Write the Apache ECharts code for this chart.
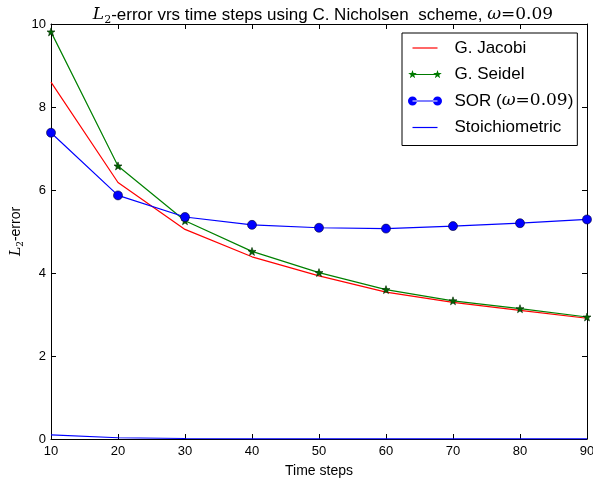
<!DOCTYPE html>
<html><head><meta charset="utf-8">
<script src="https://cdn.jsdelivr.net/npm/echarts@6/dist/echarts.min.js"></script>
<style>html,body{margin:0;padding:0;background:#fff}#c{width:593px;height:484px}</style>
</head><body><div id="c"></div>
<script>
var timeSteps = [10, 20, 30, 40, 50, 60, 70, 80, 90];
var jacobi = [8.60, 6.18, 5.05, 4.39, 3.93, 3.54, 3.29, 3.10, 2.91];
var seidel = [9.81, 6.58, 5.26, 4.52, 4.01, 3.60, 3.33, 3.14, 2.94];
var sor = [7.38, 5.87, 5.35, 5.16, 5.09, 5.07, 5.13, 5.20, 5.29];
var stoich = [0.10, 0.03, 0.012, 0.005, 0.003, 0.002, 0.001, 0.001, 0.001];
var seriesNames = ['G. Jacobi', 'G. Seidel', 'SOR (w=0.09)', 'Stoichiometric'];

function pairs(ys) { return timeSteps.map(function (x, i) { return [x, ys[i]]; }); }
function starPts(cx, cy, R, r) {
  var s = '';
  for (var k = 0; k < 10; k++) {
    var a = (-90 + k * 36) * Math.PI / 180, rr = k % 2 ? r : R;
    s += (k ? 'L' : 'M') + (cx + rr * Math.cos(a)).toFixed(3) + ',' + (cy + rr * Math.sin(a)).toFixed(3);
  }
  return s + 'Z';
}
var starSymbol = 'path://' + starPts(5, 5, 5, 2);
var bar = 'M4.5,3.9h25v1.2h-25Z';
var anchors = 'M0,0L0,0M34,9L34,9';
var iconLine = 'path://' + anchors + bar;
var iconStar = 'path://' + anchors + starPts(4.5, 4.5, 4.5, 1.8) + starPts(29.5, 4.5, 4.5, 1.8) + bar;
var iconCircle = 'path://M0,4.5a4.5,4.5 0 1,0 9,0a4.5,4.5 0 1,0 -9,0ZM25,4.5a4.5,4.5 0 1,0 9,0a4.5,4.5 0 1,0 -9,0Z' + bar;

var sans = 'Liberation Sans, Arial, sans-serif';
var serif = 'DejaVu Serif, serif';
var chart = echarts.init(document.getElementById('c'), null, {renderer: 'canvas'});
var grid = {left: 51, right: 6, top: 24, bottom: 45, containLabel: false, outerBoundsMode: 'none'};
var axisCommon = {
  type: 'value', splitLine: {show: false},
  axisLine: {show: true, onZero: false, lineStyle: {color: '#000', width: 1}},
  axisTick: {show: true, inside: true, length: 5, lineStyle: {color: '#000'}}
};
chart.setOption({
  animation: false,
  backgroundColor: '#fff',
  title: {
    text: '{m|L}{s|2}{t|-error vrs time steps using C. Nicholsen  scheme, }{m|\u03c9}{e|=0.09}',
    left: 318, top: -1, textAlign: 'center',
    textStyle: {
      fontFamily: sans, fontSize: 17, fontWeight: 'normal', color: '#000',
      rich: {
        m: {fontFamily: serif, fontStyle: 'italic', fontSize: 17, lineHeight: 22, color: '#000'},
        s: {fontFamily: serif, fontSize: 11, lineHeight: 22, verticalAlign: 'bottom', color: '#000'},
        t: {fontFamily: sans, fontSize: 17, lineHeight: 22, color: '#000'},
        e: {fontFamily: serif, fontSize: 17, lineHeight: 22, color: '#000'}
      }
    }
  },
  legend: {
    orient: 'vertical', left: 402, top: 33,
    padding: [6, 4, 9, 6], itemGap: 8.5, itemWidth: 49, itemHeight: 9,
    borderColor: '#000', borderWidth: 1, backgroundColor: '#fff',
    data: [
      {name: seriesNames[0], icon: iconLine, itemStyle: {color: '#ff0000', borderWidth: 0}},
      {name: seriesNames[1], icon: iconStar, itemStyle: {color: '#007a00', borderWidth: 0}},
      {name: seriesNames[2], icon: iconCircle, itemStyle: {color: '#0000ff', borderWidth: 0}},
      {name: seriesNames[3], icon: iconLine, itemStyle: {color: '#0000ff', borderWidth: 0}}
    ],
    formatter: function (n) {
      if (n === seriesNames[2]) return 'SOR ({m|\u03c9}{e|=0.09})';
      return n;
    },
    textStyle: {
      fontFamily: sans, fontSize: 17, color: '#000', lineHeight: 18,
      rich: {
        m: {fontFamily: serif, fontStyle: 'italic', fontSize: 17, lineHeight: 18, color: '#000'},
        e: {fontFamily: serif, fontSize: 17, lineHeight: 18, color: '#000'}
      }
    }
  },
  grid: grid,
  xAxis: [
    Object.assign({}, axisCommon, {
      position: 'bottom', min: 10, max: 90, interval: 10,
      name: 'Time steps', nameLocation: 'middle', nameGap: 25, nameMoveOverlap: false,
      nameTextStyle: {fontFamily: sans, fontSize: 14, color: '#000'},
      axisLabel: {fontFamily: sans, fontSize: 13, color: '#000', margin: 6}
    }),
    Object.assign({}, axisCommon, {
      position: 'top', min: 10, max: 90, interval: 10, axisLabel: {show: false}
    })
  ],
  yAxis: [
    Object.assign({}, axisCommon, {
      position: 'left', min: 0, max: 10, interval: 2,
      name: '{m|L}{s|2}{t|-error}', nameLocation: 'middle', nameGap: 26, nameRotate: 90,
      nameMoveOverlap: false,
      nameTextStyle: {
        fontFamily: sans, fontSize: 14, color: '#000',
        rich: {
          m: {fontFamily: serif, fontStyle: 'italic', fontSize: 14, lineHeight: 18, color: '#000'},
          s: {fontFamily: serif, fontSize: 9, lineHeight: 18, verticalAlign: 'bottom', color: '#000'},
          t: {fontFamily: sans, fontSize: 14, lineHeight: 18, color: '#000'}
        }
      },
      axisLabel: {fontFamily: sans, fontSize: 13, color: '#000', margin: 5}
    }),
    Object.assign({}, axisCommon, {
      position: 'right', min: 0, max: 10, interval: 2, axisLabel: {show: false}
    })
  ],
  series: [
    {name: seriesNames[0], type: 'line', data: pairs(jacobi), symbol: 'none',
     lineStyle: {color: '#ff0000', width: 1.2}, itemStyle: {color: '#ff0000'}, z: 3},
    {name: seriesNames[1], type: 'line', data: pairs(seidel), symbol: starSymbol, symbolSize: 8,
     showAllSymbol: true,
     lineStyle: {color: '#008000', width: 1.2},
     itemStyle: {color: '#006400', borderColor: '#002800', borderWidth: 0.6}, z: 4},
    {name: seriesNames[2], type: 'line', data: pairs(sor), symbol: 'circle', symbolSize: 9,
     showAllSymbol: true,
     lineStyle: {color: '#0000ff', width: 1.2},
     itemStyle: {color: '#0000ff', borderColor: '#000033', borderWidth: 0.6}, z: 5},
    {name: seriesNames[3], type: 'line', data: pairs(stoich), symbol: 'none',
     lineStyle: {color: '#0000ff', width: 1.2}, itemStyle: {color: '#0000ff'}, z: 2}
  ]
});
</script></body></html>
